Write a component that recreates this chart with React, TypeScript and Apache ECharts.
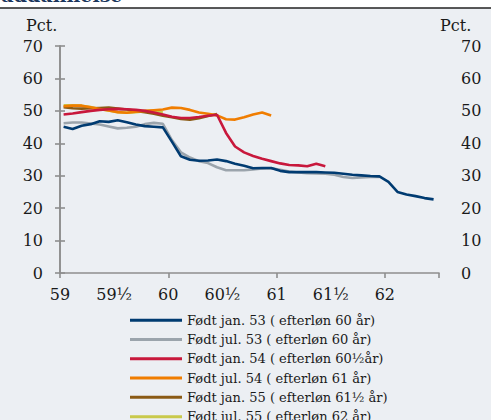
import React, { useEffect, useRef } from "react";
import * as echarts from "echarts";

const FONT = '"DejaVu Serif", serif';

const seriesNames = [
  "Født jan. 53 ( efterløn 60 år)",
  "Født jul. 53 ( efterløn 60 år)",
  "Født jan. 54 ( efterløn 60½år)",
  "Født jul. 54 ( efterløn 61 år)",
  "Født jan. 55 ( efterløn 61½ år)",
  "Født jul. 55 ( efterløn 62 år)",
];

const seriesColors = ["#003b71", "#9ba4ac", "#c8183c", "#f07d00", "#8a5a14", "#c9c94b"];

// Monthly observations (percent), first point just after age 59
const jan53 = [45.1, 44.4, 45.4, 45.9, 46.8, 46.6, 47.1, 46.5, 45.8, 45.3, 45.1, 44.9, 40.5, 36.0, 34.9, 34.6, 34.7, 35.0, 34.5, 33.7, 33.1, 32.3, 32.4, 32.4, 31.5, 31.1, 31.1, 31.1, 31.1, 31.0, 30.9, 30.6, 30.3, 30.1, 29.9, 29.8, 28.1, 25.0, 24.2, 23.7, 23.1, 22.7];
const jul53 = [46.2, 46.4, 46.4, 46.1, 45.8, 45.2, 44.6, 44.8, 45.1, 45.9, 46.3, 46.0, 41.0, 37.2, 35.6, 34.5, 33.9, 32.6, 31.7, 31.7, 31.7, 31.9, 32.2, 32.3, 31.8, 31.3, 31.0, 30.8, 30.7, 30.6, 30.3, 29.6, 29.3, 29.5, 29.6, 29.6];
const jan54 = [48.9, 49.2, 49.6, 50.0, 50.3, 50.5, 50.6, 50.5, 50.3, 50.0, 49.5, 48.9, 48.2, 47.8, 47.8, 48.1, 48.5, 48.8, 43.2, 39.0, 37.2, 36.1, 35.2, 34.5, 33.8, 33.3, 33.2, 32.9, 33.7, 32.9];
const jul54 = [51.4, 51.6, 51.6, 51.1, 50.6, 50.1, 49.6, 49.4, 49.7, 50.0, 50.2, 50.4, 51.0, 50.9, 50.3, 49.5, 49.1, 48.6, 47.4, 47.3, 48.0, 48.9, 49.5, 48.6];
const jan55 = [51.1, 50.8, 50.7, 50.8, 50.9, 51.0, 50.7, 50.4, 50.0, 49.6, 49.1, 48.5, 48.0, 47.5, 47.3, 47.7, 48.4, 49.0];
const jul55 = [51.7, 51.7, 51.6, 51.2, 50.5, 50.1, 49.6, 49.4, 49.6, 49.9, 50.0, 49.5];

const seriesValues = [jan53, jul53, jan54, jul54, jan55, jul55];

// months since age 59 at which a monthly observation is plotted
const MONTH_OFFSET = 0.4;

const xTickLabels = ["59", "59½", "60", "60½", "61", "61½", "62", "62½"];
const yTicks = { min: 0, max: 70, interval: 10 };

const TEXT_COLOR = "#1a1a1a";
const AXIS_COLOR = "#8e8e8e";

export default function App() {
  const ref = useRef<HTMLDivElement>(null);

  useEffect(() => {
    if (!ref.current) return;
    const chart = echarts.init(ref.current, undefined, { renderer: "svg" });

    const series = seriesNames.map((name, si) => ({
      name,
      type: "line",
      xAxisIndex: 0,
      yAxisIndex: 0,
      symbol: "none",
      showSymbol: false,
      data: seriesValues[si].map((v, i) => [i + MONTH_OFFSET, v]),
      lineStyle: { color: seriesColors[si], width: 2.6 },
      itemStyle: { color: seriesColors[si] },
      z: 10 - si,
    }));

    const yAxisCommon = {
      type: "value",
      min: yTicks.min,
      max: yTicks.max,
      interval: yTicks.interval,
      splitLine: { show: false },
      axisLine: { show: true, lineStyle: { color: AXIS_COLOR, width: 1.6 } },
      axisTick: { show: true, inside: false, length: 5, lineStyle: { color: AXIS_COLOR, width: 1.6 } },
    };

    chart.setOption({
      animation: false,
      backgroundColor: "transparent",
      grid: { left: 60, right: 52, top: 46, bottom: 167, containLabel: false },
      xAxis: [
        {
          type: "value",
          min: 0,
          max: 42,
          interval: 6,
          splitLine: { show: false },
          axisLine: { show: true, lineStyle: { color: AXIS_COLOR, width: 1.6 } },
          axisTick: { show: false },
          axisLabel: {
            color: TEXT_COLOR,
            fontFamily: FONT,
            fontSize: 16,
            margin: 13,
            showMaxLabel: false,
            formatter: (v: number) => xTickLabels[Math.round(v / 6)] ?? "",
          },
        },
        {
          type: "value",
          min: 0,
          max: 42,
          interval: 12,
          position: "bottom",
          splitLine: { show: false },
          axisLine: { show: false },
          axisTick: { show: true, inside: false, length: 5, lineStyle: { color: AXIS_COLOR, width: 1.6 } },
          axisLabel: { show: false },
        },
      ],
      yAxis: [
        {
          ...yAxisCommon,
          position: "left",
          axisLabel: { color: TEXT_COLOR, fontFamily: FONT, fontSize: 16, margin: 17 },
        },
        {
          ...yAxisCommon,
          position: "right",
          axisLabel: { color: TEXT_COLOR, fontFamily: FONT, fontSize: 16, margin: 22 },
        },
      ],
      legend: {
        orient: "vertical",
        left: 125,
        top: 308,
        itemWidth: 52,
        itemHeight: 3,
        itemGap: 5,
        icon: "rect",
        data: seriesNames,
        textStyle: { color: TEXT_COLOR, fontFamily: FONT, fontSize: 13, lineHeight: 14.3 },
      },
      graphic: [
        {
          type: "rect",
          z: -100,
          shape: { x: 0, y: 8, width: 491, height: 440 },
          style: { fill: "#eceff3" },
          silent: true,
        },
        {
          type: "line",
          z: 100,
          shape: { x1: 0, y1: 8, x2: 491, y2: 8 },
          style: { stroke: "#222222", lineWidth: 1.5 },
          silent: true,
        },
        {
          type: "text",
          z: 100,
          x: 0,
          y: -5.5,
          style: {
            text: "uddannelse",
            font: `bold 19px ${FONT}`,
            fill: "#1b365d",
            textVerticalAlign: "middle",
          },
        },
        {
          type: "text",
          x: 26,
          y: 25.5,
          style: { text: "Pct.", font: `16px ${FONT}`, fill: TEXT_COLOR, textVerticalAlign: "middle" },
        },
        {
          type: "text",
          x: 440,
          y: 25.5,
          style: { text: "Pct.", font: `16px ${FONT}`, fill: TEXT_COLOR, textVerticalAlign: "middle" },
        },
      ],
      series,
    });

    return () => chart.dispose();
  }, []);

  return (
    <div
      style={{ position: "absolute", left: 0, top: 0, width: 491, height: 420, overflow: "hidden", background: "#ffffff" }}
    >
      <div ref={ref} style={{ width: 491, height: 440 }} />
    </div>
  );
}
